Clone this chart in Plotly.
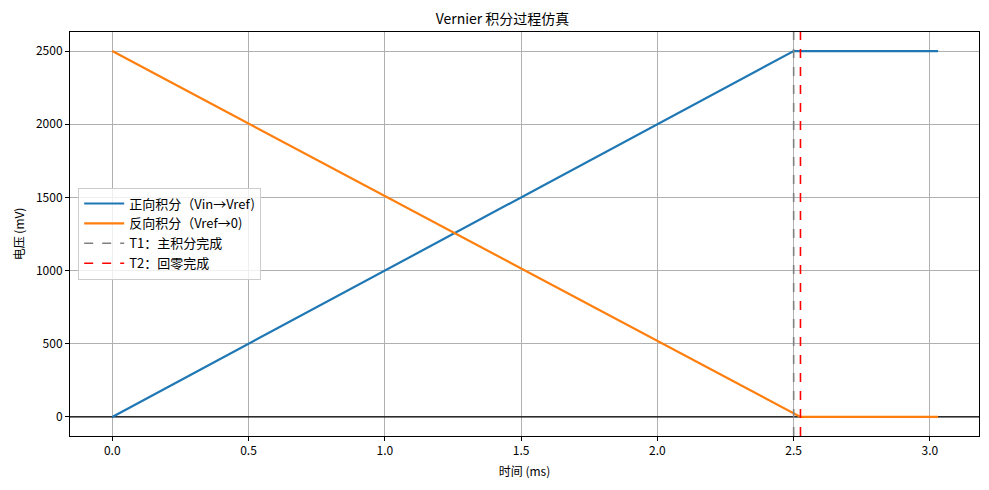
import plotly.graph_objects as go

t_fwd = [0.0, 2.5, 3.03]
v_fwd = [0, 2500, 2500]
t_rev = [0.0, 2.525, 3.03]
v_rev = [2500, 0, 0]
t1 = 2.5
t2 = 2.525
xticks = [0.0, 0.5, 1.0, 1.5, 2.0, 2.5, 3.0]
yticks = [0, 500, 1000, 1500, 2000, 2500]
x_range = [-0.155, 3.18]
y_range = [-130, 2630]

F = "Noto Sans CJK SC"
fig = go.Figure()
fig.add_trace(go.Scatter(x=x_range, y=[0, 0], mode="lines", line=dict(color="black", width=1.2),
                         showlegend=False, hoverinfo="skip"))
fig.add_trace(go.Scatter(x=t_fwd, y=v_fwd, mode="lines", line=dict(color="#1f77b4", width=2.2), name="正向积分（Vin→Vref)"))
fig.add_trace(go.Scatter(x=t_rev, y=v_rev, mode="lines", line=dict(color="#ff7f0e", width=2.2), name="反向积分（Vref→0)"))
fig.add_trace(go.Scatter(x=[t1, t1], y=y_range, mode="lines", line=dict(color="gray", width=1.6, dash="dash"), name="T1：主积分完成"))
fig.add_trace(go.Scatter(x=[t2, t2], y=y_range, mode="lines", line=dict(color="red", width=1.6, dash="dash"), name="T2：回零完成"))

ax = dict(showline=True, mirror=True, linecolor="black", linewidth=1, gridcolor="#b0b0b0", gridwidth=1,
          ticks="outside", ticklen=4, tickcolor="black", zeroline=False, automargin=False,
          tickfont=dict(size=12, color="black"))
fig.update_layout(
    width=989, height=490, plot_bgcolor="white", paper_bgcolor="white",
    font=dict(family=F, color="black", size=12),
    margin=dict(l=62, r=18, t=24, b=62),
    title=dict(text="Vernier 积分过程仿真", x=0.5, xanchor="center", y=0.977, yanchor="middle", font=dict(size=14)),
    xaxis=dict(ax, range=x_range, tickvals=xticks, ticktext=[f"{v:.1f}" for v in xticks],
               title=dict(text="时间 (ms)", standoff=10, font=dict(size=12))),
    yaxis=dict(ax, range=y_range, tickvals=yticks, title=dict(text="电压 (mV)", standoff=8, font=dict(size=12))),
    legend=dict(x=0.009, y=0.615, xanchor="left", yanchor="top", bordercolor="#cccccc", borderwidth=1,
                bgcolor="rgba(255,255,255,0.8)", font=dict(size=13), tracegroupgap=0, itemwidth=40),
    showlegend=True,
)
fig.write_html("out.html")
